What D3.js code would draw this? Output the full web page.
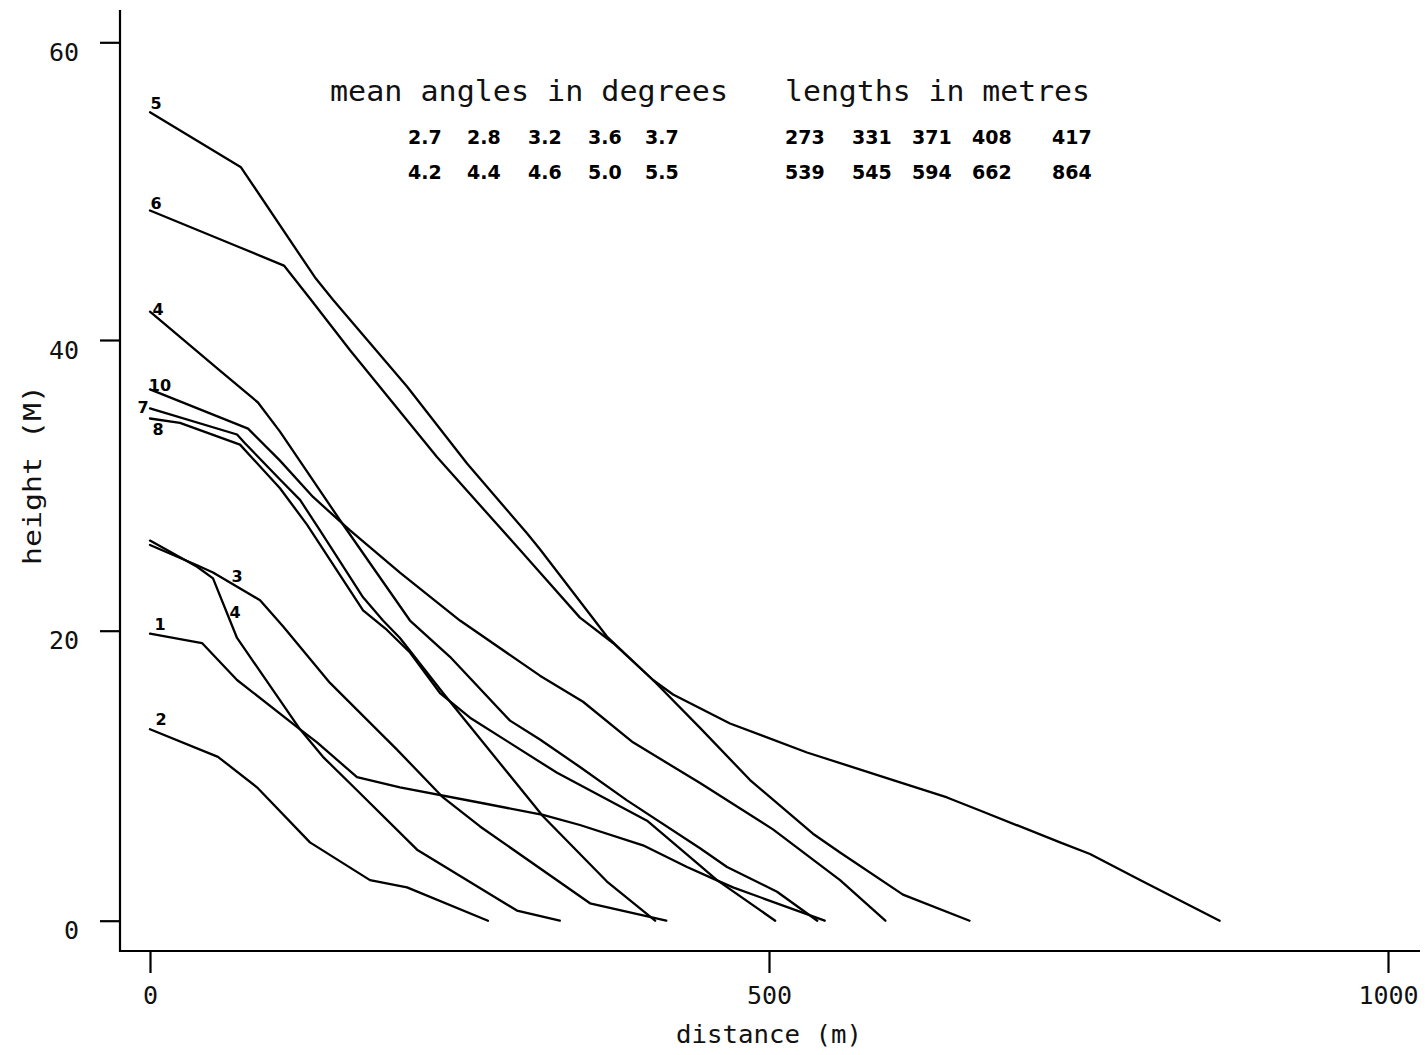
<!DOCTYPE html>
<html>
<head>
<meta charset="utf-8">
<script src="https://cdn.jsdelivr.net/npm/d3@7"></script>
<style>
  html, body { margin: 0; padding: 0; background: #fff; }
  svg { display: block; }
</style>
</head>
<body>
<svg id="chart" width="1425" height="1055"></svg>
<script>
// Longitudinal profiles: horizontal distance (m) against height (m)

const p5Dist    = [0, 73.5, 133.3, 147.8, 207.6, 256.1, 304.5, 315.0, 369.1, 406.3, 444.3, 484.7, 535.5, 557.4, 608.2, 662];
const p5Height  = [55.3, 51.6, 44.2, 42.7, 36.8, 31.5, 26.7, 25.6, 19.6, 16.6, 13.3, 9.7, 6.0, 4.7, 1.8, 0];

const p6Dist    = [0, 70.3, 108.2, 130.0, 161.6, 231.8, 298.9, 315.0, 347.3, 374.0, 406.3, 422.5, 468.5, 530.7, 600.2, 643.8, 670.4, 735.1, 759.3, 799.7, 864];
const p6Height  = [48.7, 46.3, 45.0, 42.7, 39.3, 31.95, 25.55, 24.0, 20.9, 19.15, 16.6, 15.6, 13.6, 11.6, 9.7, 8.5, 7.6, 5.4, 4.6, 2.8, 0];

const p4aDist   = [0, 56.5, 87.2, 105.0, 153.5, 210.0, 242.3, 290.8, 315.0, 347.3, 385.3, 444.3, 466.1, 506.5, 539];
const p4aHeight = [41.9, 37.9, 35.7, 33.7, 27.6, 20.7, 18.2, 13.8, 12.5, 10.6, 8.3, 5.0, 3.7, 2.0, 0];

const p10Dist   = [0, 79.2, 105.0, 131.7, 161.6, 201.9, 250.4, 315.0, 349.8, 390.1, 444.3, 503.2, 557.4, 594];
const p10Height = [36.6, 33.9, 31.7, 29.2, 26.9, 24.0, 20.7, 16.9, 15.1, 12.3, 9.5, 6.3, 2.8, 0];

const p7Dist    = [0, 70.3, 76.7, 105.0, 121.2, 137.3, 172.1, 188.2, 201.9, 236.7, 317.4, 369.1, 408];
const p7Height  = [35.3, 33.5, 32.9, 30.4, 29.0, 26.9, 22.3, 20.7, 19.5, 15.7, 7.2, 2.7, 0];

const p8Dist    = [0, 24.2, 72.7, 105.0, 126.8, 172.1, 191.4, 210.0, 234.2, 258.5, 328.8, 401.5, 444.3, 458.0, 505];
const p8Height  = [34.6, 34.3, 32.8, 29.8, 27.3, 21.4, 20.05, 18.5, 15.7, 14.0, 10.2, 6.9, 3.8, 2.8, 0];

const p3Dist    = [0, 38.0, 50.9, 88.9, 107.4, 145.4, 199.5, 236.7, 266.6, 355.4, 417];
const p3Height  = [25.9, 24.5, 24.0, 22.1, 20.3, 16.4, 11.8, 8.5, 6.5, 1.2, 0];

const p4bDist   = [0, 38.0, 50.9, 70.3, 121.2, 139.7, 167.2, 215.7, 296.4, 331];
const p4bHeight = [26.2, 24.4, 23.6, 19.5, 13.2, 11.3, 9.0, 4.9, 0.7, 0];

const p1Dist    = [0, 42.0, 70.3, 121.2, 134.9, 167.2, 201.9, 269.0, 317.4, 347.3, 398.2, 433.8, 454.8, 470.9, 545];
const p1Height  = [19.8, 19.15, 16.6, 13.2, 12.3, 9.9, 9.2, 8.1, 7.3, 6.6, 5.2, 3.7, 2.9, 2.3, 0];

const p2Dist    = [0, 54.9, 86.4, 129.2, 177.7, 207.6, 273];
const p2Height  = [13.2, 11.3, 9.2, 5.4, 2.8, 2.3, 0];

// profile numbers written beside each line
const profileLabels = ["5", "6", "4", "10", "7", "8", "3", "4", "1", "2"];

// summary figures printed in the upper part of the plot
const meanAnglesRow1 = [2.7, 2.8, 3.2, 3.6, 3.7];
const meanAnglesRow2 = [4.2, 4.4, 4.6, 5.0, 5.5];
const lengthsRow1    = [273, 331, 371, 408, 417];
const lengthsRow2    = [539, 545, 594, 662, 864];

const xTicks = [0, 500, 1000];
const yTicks = [0, 20, 40, 60];

// ---------------------------------------------------------------------------

const profiles = [
  [p5Dist, p5Height], [p6Dist, p6Height], [p4aDist, p4aHeight], [p10Dist, p10Height],
  [p7Dist, p7Height], [p8Dist, p8Height], [p3Dist, p3Height], [p4bDist, p4bHeight],
  [p1Dist, p1Height], [p2Dist, p2Height]
].map(([d, h]) => d.map((v, i) => [v, h[i]]));

const svg = d3.select("#chart");

const x = d3.scaleLinear().domain([0, 1000]).range([150, 1388]);
// the printed height axis is slightly uneven between its tick marks
const y = d3.scaleLinear().domain([0, 20, 40, 60]).range([920.7, 630.7, 340, 42.3]);

const monoFont = "'DejaVu Sans Mono', 'Liberation Mono', monospace";
const boldFont = "'DejaVu Sans', 'Liberation Sans', sans-serif";

// axes
const yAxisX = 120, xAxisY = 951;

const gy = svg.append("g")
  .attr("transform", `translate(${yAxisX},0)`)
  .call(d3.axisLeft(y).tickValues(yTicks).tickSize(20).tickPadding(21).tickFormat(d3.format("d")));
gy.select(".domain").remove();
gy.selectAll(".tick line").attr("stroke", "#000").attr("stroke-width", 2.2);
gy.selectAll(".tick text")
  .attr("font-family", monoFont).attr("font-size", 25).attr("fill", "#111")
  .attr("dy", "0.72em");

const gx = svg.append("g")
  .attr("transform", `translate(0,${xAxisY})`)
  .call(d3.axisBottom(x).tickValues(xTicks).tickSize(22).tickPadding(13).tickFormat(d3.format("d")));
gx.select(".domain").remove();
gx.selectAll(".tick line").attr("stroke", "#000").attr("stroke-width", 2.2);
gx.selectAll(".tick text")
  .attr("font-family", monoFont).attr("font-size", 25).attr("fill", "#111");

svg.append("line")
  .attr("x1", yAxisX).attr("x2", yAxisX).attr("y1", 10).attr("y2", xAxisY + 1)
  .attr("stroke", "#000").attr("stroke-width", 2.2);
svg.append("line")
  .attr("x1", yAxisX).attr("x2", 1420).attr("y1", xAxisY).attr("y2", xAxisY)
  .attr("stroke", "#000").attr("stroke-width", 2.2);

// axis titles
svg.append("text")
  .attr("x", 769).attr("y", 1043)
  .attr("text-anchor", "middle")
  .attr("font-family", monoFont).attr("font-size", 25).attr("fill", "#111")
  .attr("textLength", 186).attr("lengthAdjust", "spacingAndGlyphs")
  .text("distance (m)");

svg.append("text")
  .attr("transform", "translate(41,475) rotate(-90)")
  .attr("text-anchor", "middle")
  .attr("font-family", monoFont).attr("font-size", 25).attr("fill", "#111")
  .attr("textLength", 180).attr("lengthAdjust", "spacingAndGlyphs")
  .text("height (M)");

// profile lines
const line = d3.line().x(d => x(d[0])).y(d => y(d[1]));

svg.append("g")
  .selectAll("path")
  .data(profiles)
  .join("path")
  .attr("d", line)
  .attr("fill", "none")
  .attr("stroke", "#000")
  .attr("stroke-width", 2.3)
  .attr("stroke-linejoin", "round")
  .attr("stroke-linecap", "round");

// label placement: which vertex of the profile it sits by, and a pixel offset
const labelPlacement = [
  { v: 0, dx: 6,  dy: -3 },
  { v: 0, dx: 6,  dy: -2 },
  { v: 0, dx: 8,  dy: 3 },
  { v: 0, dx: 10, dy: 2 },
  { v: 0, dx: -7, dy: 5 },
  { v: 0, dx: 8,  dy: 17 },
  { v: 2, dx: 24, dy: 9 },
  { v: 3, dx: -2, dy: -20 },
  { v: 0, dx: 10, dy: -4 },
  { v: 0, dx: 11, dy: -4 }
];

svg.append("g")
  .selectAll("text")
  .data(profileLabels)
  .join("text")
  .attr("x", (d, i) => x(profiles[i][labelPlacement[i].v][0]) + labelPlacement[i].dx)
  .attr("y", (d, i) => y(profiles[i][labelPlacement[i].v][1]) + labelPlacement[i].dy)
  .attr("text-anchor", "middle")
  .attr("font-family", boldFont).attr("font-weight", "bold").attr("font-size", 16)
  .attr("fill", "#000")
  .text(d => d);

// header block
svg.append("text")
  .attr("x", 330).attr("y", 101)
  .attr("font-family", monoFont).attr("font-size", 28).attr("fill", "#111")
  .attr("textLength", 398).attr("lengthAdjust", "spacingAndGlyphs")
  .text("mean angles in degrees");

svg.append("text")
  .attr("x", 785).attr("y", 101)
  .attr("font-family", monoFont).attr("font-size", 28).attr("fill", "#111")
  .attr("textLength", 305).attr("lengthAdjust", "spacingAndGlyphs")
  .text("lengths in metres");

const angleCols  = [408, 467, 528, 588, 645];
const lengthCols = [785, 852, 912, 972, 1052];
const rowBaselines = [144, 179];

function numberRow(values, cols, baseline, fmt) {
  svg.append("g")
    .selectAll("text")
    .data(values)
    .join("text")
    .attr("x", (d, i) => cols[i])
    .attr("y", baseline)
    .attr("font-family", boldFont).attr("font-weight", "bold").attr("font-size", 19)
    .attr("fill", "#000")
    .text(d => fmt(d));
}

numberRow(meanAnglesRow1, angleCols, rowBaselines[0], d3.format(".1f"));
numberRow(meanAnglesRow2, angleCols, rowBaselines[1], d3.format(".1f"));
numberRow(lengthsRow1, lengthCols, rowBaselines[0], d3.format("d"));
numberRow(lengthsRow2, lengthCols, rowBaselines[1], d3.format("d"));
</script>
</body>
</html>
